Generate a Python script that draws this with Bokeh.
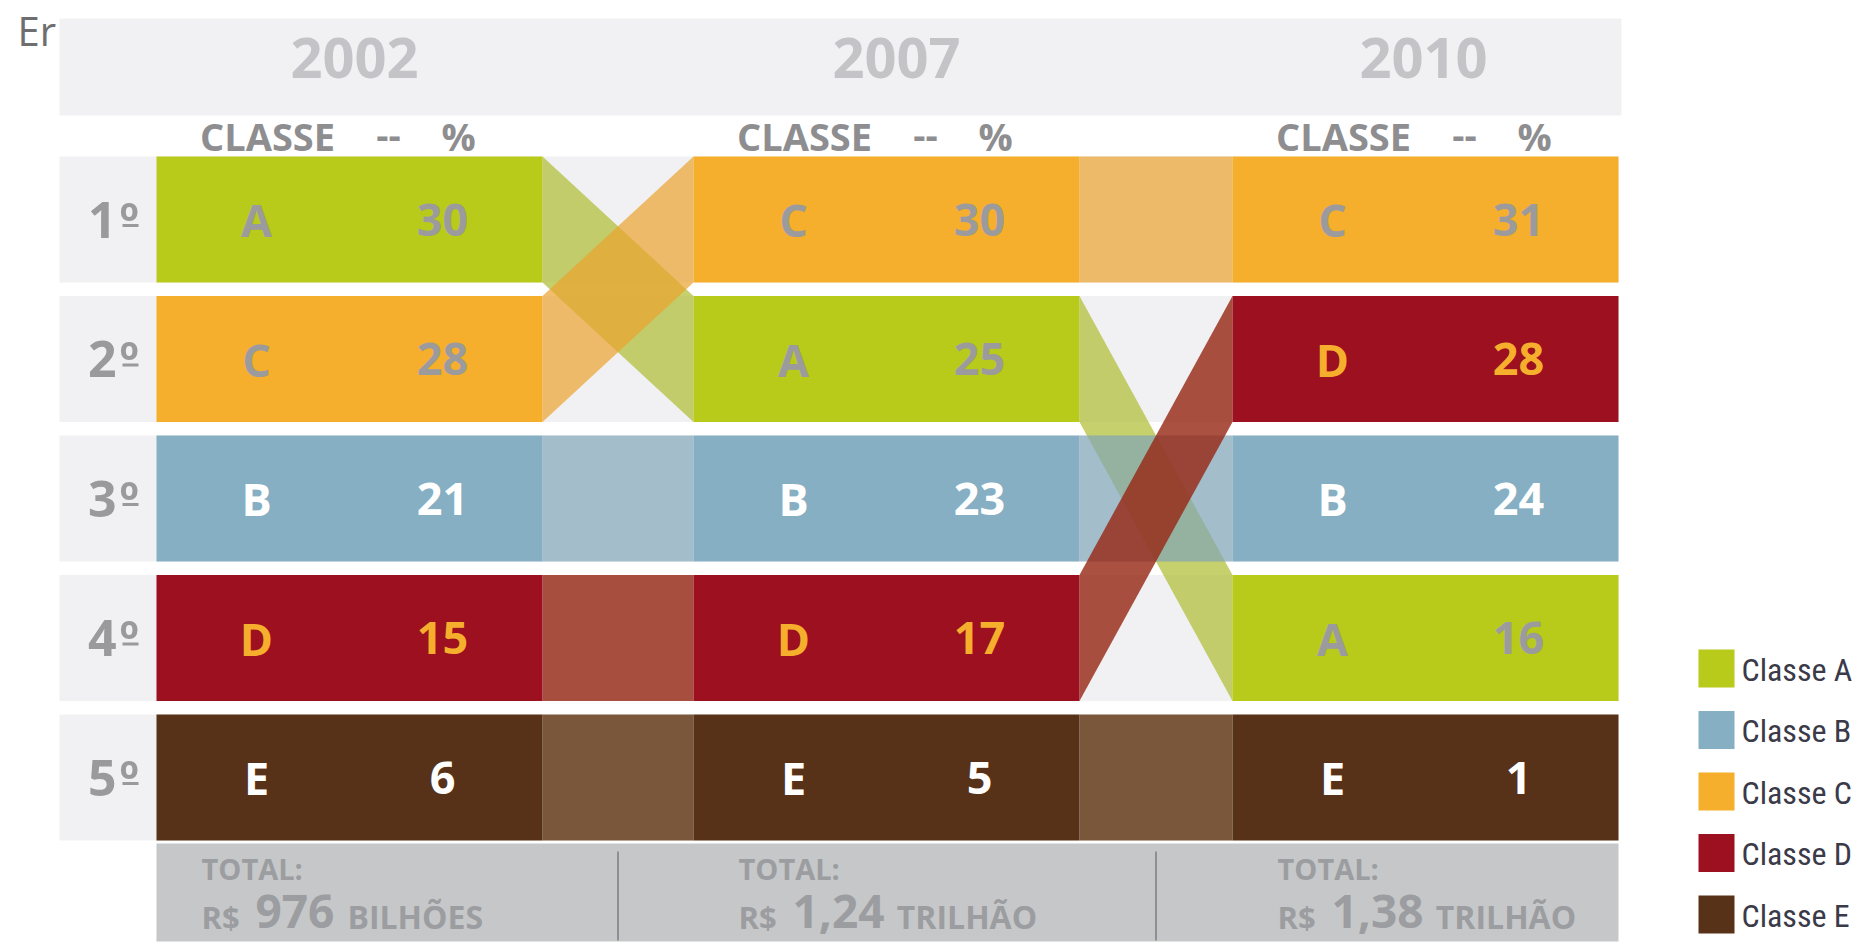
from bokeh.plotting import figure
from bokeh.models import Range1d, ColumnDataSource
from bokeh.core.properties import value
from bokeh.embed import file_html
from bokeh.resources import INLINE

# ---------------- data ----------------
years = ["2002", "2007", "2010"]
ranks = ["1º", "2º", "3º", "4º", "5º"]
class_2002 = ["A", "C", "B", "D", "E"]
class_2007 = ["C", "A", "B", "D", "E"]
class_2010 = ["C", "D", "B", "A", "E"]
share_2002 = [30, 28, 21, 15, 6]
share_2007 = [30, 25, 23, 17, 5]
share_2010 = [31, 28, 24, 16, 1]
total_currency = ["R$", "R$", "R$"]
total_amounts = ["976", "1,24", "1,38"]
total_units = ["BILHÕES", "TRILHÃO", "TRILHÃO"]
legend_classes = ["A", "B", "C", "D", "E"]
legend_labels = ["Classe A", "Classe B", "Classe C", "Classe D", "Classe E"]
header_cols = ["CLASSE", "--", "%"]

class_by_year = [class_2002, class_2007, class_2010]
share_by_year = [share_2002, share_2007, share_2010]

# ---------------- styles ----------------
block_color = {"A": "#B8CA1A", "B": "#86AFC4", "C": "#F6AE2D", "D": "#9C1020", "E": "#583218"}
link_color = {"A": "#AEBC2F", "B": "#82A7B9", "C": "#EBA22F", "D": "#962612", "E": "#5C300C"}
link_alpha = {"A": 0.7, "B": 0.7, "C": 0.7, "D": 0.8, "E": 0.8}
text_color = {"A": "#9B9B9D", "B": "#FFFFFF", "C": "#9B9B9D", "D": "#F6AE2D", "E": "#FFFFFF"}
ROW_BG = "#F1F1F4"
GREY_TXT = "#9A9A9D"
FONT = value("Open Sans")
LEGEND_FONT = value("Roboto Condensed, DejaVu Sans Condensed, Liberation Sans Narrow, Arial Narrow, sans-serif")

# ---------------- layout ----------------
W, H = 1865, 951
BLOCK_LEFT = [156, 693, 1232]
BLOCK_W = 386
YEAR_OFF = [198, 203, 191]
ROW_TOP0, ROW_STEP, ROW_H = 156, 139.5, 126


def row_top(i):
    return ROW_TOP0 + i * ROW_STEP


def row_mid(i):
    return row_top(i) + ROW_H / 2


p = figure(width=W, height=H, x_range=Range1d(0, W), y_range=Range1d(H, 0),
           output_backend="svg", toolbar_location=None, x_axis_type=None, y_axis_type=None,
           min_border=0, outline_line_color=None, background_fill_color="white",
           border_fill_color="white")
p.xgrid.visible = False
p.ygrid.visible = False

# stray page text at top-left
p.text(x=[17], y=[30], text=["Er"], text_font=FONT, text_font_size="40px",
       text_color="#6E6E70", text_baseline="middle", text_align="left")

# header band with years
p.quad(left=[59], right=[1621], top=[18], bottom=[115], fill_color=ROW_BG, line_color=None)
p.text(x=[bl + off for bl, off in zip(BLOCK_LEFT, YEAR_OFF)], y=[57] * 3, text=years,
       text_font=FONT, text_font_style="bold", text_font_size="56px", text_color="#C4C4C8",
       text_align="center", text_baseline="middle")

# column headers
hx_off = [111, 232, 302]
hx, hy, ht = [], [], []
for bl in BLOCK_LEFT:
    for off, t in zip(hx_off, header_cols):
        hx.append(bl + off)
        hy.append(135)
        ht.append(t)
p.text(x=hx, y=hy, text=ht, text_font=FONT, text_font_style="bold", text_font_size="38px",
       text_color="#8E8E91", text_align="center", text_baseline="middle")

# row backgrounds
p.quad(left=[59] * 5, right=[1618] * 5, top=[row_top(i) for i in range(5)],
       bottom=[row_top(i) + ROW_H for i in range(5)], fill_color=ROW_BG, line_color=None)

# rank labels (number + underlined ordinal sign)
p.text(x=[116] * 5, y=[row_mid(i) for i in range(5)], text=[r[:-1] for r in ranks],
       text_font=FONT, text_font_style="bold", text_font_size="50px", text_color=GREY_TXT,
       text_align="right", text_baseline="middle")
p.text(x=[119] * 5, y=[row_mid(i) for i in range(5)], text=[r[-1] for r in ranks],
       text_font=FONT, text_font_style="bold", text_font_size="50px", text_color=GREY_TXT,
       text_align="left", text_baseline="middle")
p.segment(x0=[122] * 5, x1=[138] * 5, y0=[row_mid(i) + 6 for i in range(5)],
          y1=[row_mid(i) + 6 for i in range(5)], line_color=GREY_TXT, line_width=3)

# connectors between consecutive years
for k in range(2):
    x0 = BLOCK_LEFT[k] + BLOCK_W
    x1 = BLOCK_LEFT[k + 1]
    xs, ys, cols, alphas = [], [], [], []
    for c in class_by_year[k]:
        r0 = class_by_year[k].index(c)
        r1 = class_by_year[k + 1].index(c)
        xs.append([x0, x1, x1, x0])
        ys.append([row_top(r0), row_top(r1), row_top(r1) + ROW_H, row_top(r0) + ROW_H])
        cols.append(link_color[c])
        alphas.append(link_alpha[c])
    src = ColumnDataSource(dict(xs=xs, ys=ys, c=cols, a=alphas))
    p.patches("xs", "ys", source=src, fill_color="c", fill_alpha="a", line_color=None)

# blocks and labels
for k in range(3):
    bl = BLOCK_LEFT[k]
    cls = class_by_year[k]
    sh = share_by_year[k]
    src = ColumnDataSource(dict(
        left=[bl] * 5, right=[bl + BLOCK_W] * 5,
        top=[row_top(i) for i in range(5)], bottom=[row_top(i) + ROW_H for i in range(5)],
        fc=[block_color[c] for c in cls], tc=[text_color[c] for c in cls],
        lx=[bl + 100] * 5, nx=[bl + 286] * 5,
        ty=[row_mid(i) for i in range(5)],
        lab=cls, num=[str(v) for v in sh]))
    p.quad(left="left", right="right", top="top", bottom="bottom", source=src,
           fill_color="fc", line_color=None)
    p.text(x="lx", y="ty", text="lab", source=src, text_font=FONT, text_font_style="bold",
           text_font_size="45px", text_color="tc", text_align="center", text_baseline="middle")
    p.text(x="nx", y="ty", text="num", source=src, text_font=FONT, text_font_style="bold",
           text_font_size="45px", text_color="tc", text_align="center", text_baseline="middle")

# totals band
p.quad(left=[156], right=[1618], top=[843], bottom=[941], fill_color="#C6C7C9", line_color=None)
for k in range(2):
    xm = (BLOCK_LEFT[k] + BLOCK_W + BLOCK_LEFT[k + 1]) / 2
    p.segment(x0=[xm], y0=[851], x1=[xm], y1=[940], line_color="#8E8F92", line_width=2)

TOT_C = "#9C9DA0"
for k in range(3):
    x0 = BLOCK_LEFT[k] + 45
    p.text(x=[x0], y=[868], text=["TOTAL:"], text_font=FONT, text_font_style="bold",
           text_font_size="29px", text_color=TOT_C, text_align="left", text_baseline="middle")
    p.text(x=[x0], y=[916], text=[total_currency[k]], text_font=FONT, text_font_style="bold",
           text_font_size="31px", text_color=TOT_C, text_align="left", text_baseline="middle")
    amt = total_amounts[k]
    xn = x0 + 54
    p.text(x=[xn], y=[911], text=[amt], text_font=FONT, text_font_style="bold",
           text_font_size="46px", text_color=TOT_C, text_align="left", text_baseline="middle")
    w = sum(12.4 if ch in ",." else 26.3 for ch in amt)
    p.text(x=[xn + w + 13], y=[916], text=[total_units[k]], text_font=FONT,
           text_font_style="bold", text_font_size="32px", text_color=TOT_C,
           text_align="left", text_baseline="middle")

# legend
ly = [668 + i * 61.5 for i in range(5)]
p.quad(left=[1698] * 5, right=[1734] * 5, top=[y - 19 for y in ly], bottom=[y + 19 for y in ly],
       fill_color=[block_color[c] for c in legend_classes], line_color=None)
p.text(x=[1741] * 5, y=[y + 1 for y in ly], text=legend_labels,
       text_font=LEGEND_FONT, text_font_size="32px", text_color="#3A3A48",
       text_align="left", text_baseline="middle")

open("out.html", "w").write(file_html(p, INLINE))
